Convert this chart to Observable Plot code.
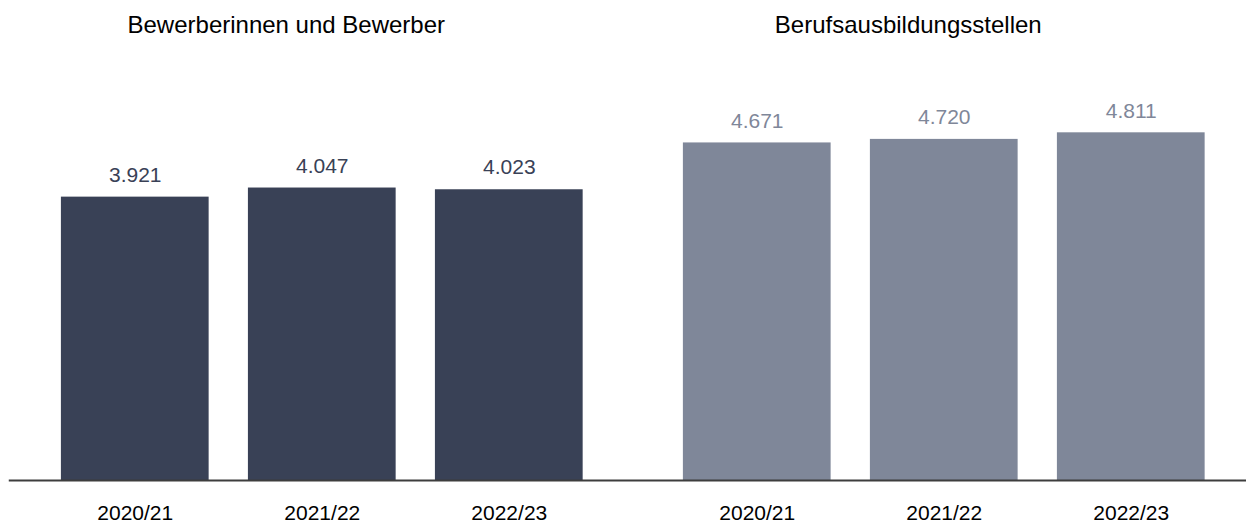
<!DOCTYPE html>
<html>
<head>
<meta charset="utf-8">
<script src="https://cdn.jsdelivr.net/npm/d3@7"></script>
<script src="https://cdn.jsdelivr.net/npm/@observablehq/plot@0.6"></script>
<style>
  html, body { margin: 0; padding: 0; background: #fff; }
  #chart svg { display: block; }
</style>
</head>
<body>
<div id="chart"></div>
<script>
const groups = ["Bewerberinnen und Bewerber", "Berufsausbildungsstellen"];
const years = ["2020/21", "2021/22", "2022/23"];
const bewerber = [3921, 4047, 4023];
const stellen = [4671, 4720, 4811];
const colors = ["#394156", "#7f8799"];

const data = [
  ...years.map((year, i) => ({group: groups[0], year, value: bewerber[i]})),
  ...years.map((year, i) => ({group: groups[1], year, value: stellen[i]}))
];

const de = d3.formatLocale({decimal: ",", thousands: ".", grouping: [3], currency: ["", " €"]});
const fmt = de.format(",d");

const chart = Plot.plot({
  width: 1246,
  height: 523,
  marginLeft: 10,
  marginRight: 0,
  marginTop: 50,
  marginBottom: 43,
  fx: {domain: groups, paddingInner: 0.098, paddingOuter: 0.0426, align: 0.59, round: false},
  x: {domain: years, paddingInner: 0.21, paddingOuter: 0.105, round: false},
  y: {domain: [0, 5950], axis: null},
  color: {domain: groups, range: colors},
  style: {fontFamily: "'Liberation Sans', Arial, sans-serif", fontSize: "21px", color: "#000", background: "#fff"},
  marks: [
    Plot.barY(data, {fx: "group", x: "year", y: "value", fill: "group"}),
    Plot.text(data, {fx: "group", x: "year", y: "value", text: d => fmt(d.value), fill: "group", dy: -22, fontSize: 21}),
    Plot.frame({anchor: "bottom", stroke: "#3d3d3d", strokeWidth: 2, facet: "super", insetLeft: -32, insetRight: -22}),
    Plot.axisX({tickSize: 0, tickPadding: 25, label: null, fontSize: 21, color: "#000"}),
    Plot.axisFx({anchor: "top", tickSize: 0, tickPadding: 18, label: null, dx: -36, fontSize: 24, color: "#000"})
  ]
});
document.getElementById("chart").appendChild(chart);
</script>
</body>
</html>
